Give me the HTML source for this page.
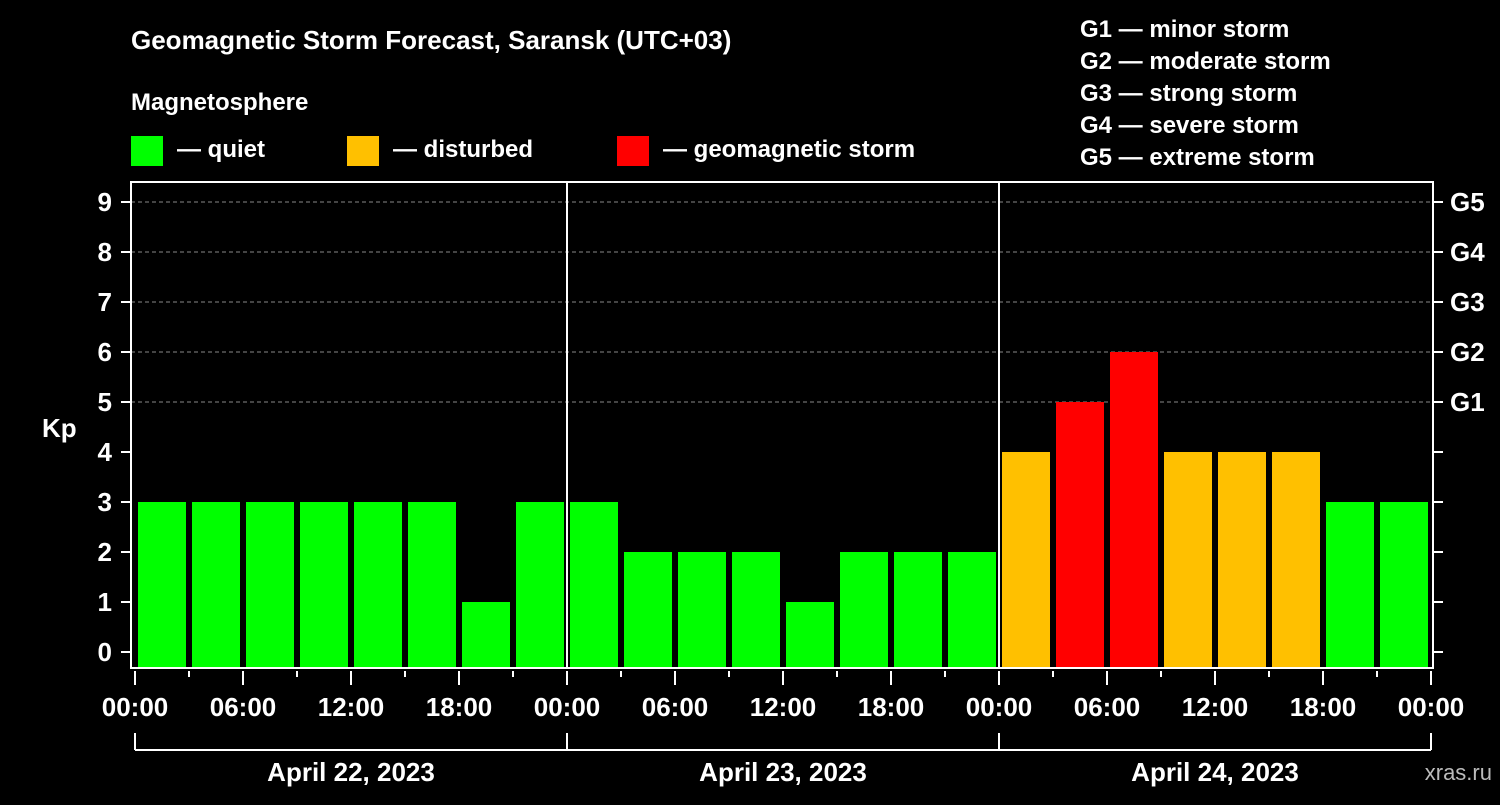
<!DOCTYPE html>
<html><head><meta charset="utf-8"><style>
body{margin:0;background:#000;width:1500px;height:800px;overflow:hidden}
svg text{font-family:"Liberation Sans",sans-serif;font-weight:bold;fill:#fff}
</style></head><body>
<svg id="c" width="1500" height="800">
<text x="131" y="49" font-size="26">Geomagnetic Storm Forecast, Saransk (UTC+03)</text>
<text x="131" y="110" font-size="24">Magnetosphere</text>
<rect x="131" y="136" width="32" height="30" fill="#00ff00"/>
<text x="177" y="157" font-size="24">— quiet</text>
<rect x="347" y="136" width="32" height="30" fill="#ffc000"/>
<text x="393" y="157" font-size="24">— disturbed</text>
<rect x="617" y="136" width="32" height="30" fill="#ff0000"/>
<text x="663" y="157" font-size="24">— geomagnetic storm</text>
<g font-size="24">
<text x="1080" y="37">G1 — minor storm</text>
<text x="1080" y="69">G2 — moderate storm</text>
<text x="1080" y="101">G3 — strong storm</text>
<text x="1080" y="133">G4 — severe storm</text>
<text x="1080" y="165">G5 — extreme storm</text>
</g>
<text x="42" y="437" font-size="26">Kp</text>
<text x="1492" y="780" font-size="22" text-anchor="end" fill="#bbb" style="fill:#bbb;font-weight:normal">xras.ru</text>
<g id="g"></g>
</svg>
<script>
const kpValues=[3,3,3,3,3,3,1,3, 3,2,2,2,1,2,2,2, 4,5,6,4,4,4,3,3];
const dayLabels=["April 22, 2023","April 23, 2023","April 24, 2023"];
const hourLabels=["00:00","06:00","12:00","18:00"];
const yTicks=[0,1,2,3,4,5,6,7,8,9];
const gLabels=["G1","G2","G3","G4","G5"];
const NS="http://www.w3.org/2000/svg",g=document.getElementById('g');
const X0=135,SLOT=54,L=131,R=1433,T=182,B=668;
const yS=v=>652-50*v, xS=i=>X0+i*SLOT;
function el(t,a,p){const e=document.createElementNS(NS,t);for(const k in a)e.setAttribute(k,a[k]);(p||g).appendChild(e);return e;}
yTicks.forEach(v=>{
 if(v>=5){const gl=el('line',{x1:L,x2:R,y1:yS(v),y2:yS(v),stroke:'#888','stroke-dasharray':'4,3'});
 
 }
 el('line',{x1:L-10,x2:L,y1:yS(v),y2:yS(v),stroke:'#fff','stroke-width':2});
 el('line',{x1:R,x2:R+10,y1:yS(v),y2:yS(v),stroke:'#fff','stroke-width':2});
 const t=el('text',{x:112,y:yS(v)+9,'font-size':26,'text-anchor':'end'});t.textContent=v;
 
 
});
gLabels.forEach((s,i)=>{const t=el('text',{x:1450,y:yS(5+i)+9,'font-size':26});t.textContent=s;
 
 });
kpValues.forEach((v,i)=>{
 const c=v>=5?'#ff0000':v>=4?'#ffc000':'#00ff00';
 const r=el('rect',{x:xS(i)+3,y:yS(v),width:48,height:B-1-yS(v),fill:c});
 
 
});
el('rect',{x:L,y:T,width:R-L,height:B-T,fill:'none',stroke:'#fff','stroke-width':2});
for(let d=1;d<dayLabels.length;d++){const x=xS(d*8);el('line',{x1:x,x2:x,y1:T,y2:B,stroke:'#fff','stroke-width':2});}
for(let i=0;i<=kpValues.length;i++){
 const x=xS(i),maj=i%2==0;
 el('line',{x1:x,x2:x,y1:B+3,y2:maj?B+17:B+9,stroke:'#fff','stroke-width':2});
 if(maj){const t=el('text',{x:x,y:716,'font-size':26,'text-anchor':'middle'});t.textContent=hourLabels[(i/2)%4];
 
 }
}
el('line',{x1:xS(0),x2:xS(24),y1:750,y2:750,stroke:'#fff','stroke-width':2});
dayLabels.forEach((s,d)=>{
 el('line',{x1:xS(d*8),x2:xS(d*8),y1:733,y2:750,stroke:'#fff','stroke-width':2});
 const t=el('text',{x:xS(d*8+4),y:781,'font-size':26,'text-anchor':'middle'});t.textContent=s;
 
 
});
el('line',{x1:xS(24),x2:xS(24),y1:733,y2:750,stroke:'#fff','stroke-width':2});
</script>
</body></html>
